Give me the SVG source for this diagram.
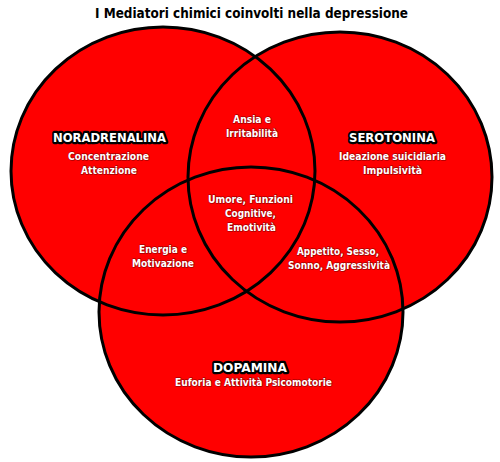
<svg xmlns="http://www.w3.org/2000/svg" width="500" height="462" viewBox="0 0 500 462">
<style>
.fill{fill:#ff0000;stroke:none}
.ring{fill:none;stroke:#000;stroke-width:3}
text{font-family:"DejaVu Sans","Liberation Sans",sans-serif;font-weight:bold;text-anchor:middle}
.title{font-size:14px;fill:#000}
.head{font-size:12.5px;fill:#fff;stroke:#000;stroke-width:4.5;stroke-linejoin:round;paint-order:stroke}
.sub{font-size:11px;fill:#fff;stroke:#5a0000;stroke-width:1.6;stroke-opacity:0.55;stroke-linejoin:round;paint-order:stroke}
</style>
<rect width="500" height="462" fill="#fff"/>
<text class="title" x="251.5" y="18" textLength="313" lengthAdjust="spacingAndGlyphs">I Mediatori chimici coinvolti nella depressione</text>
<g id="fills">
<ellipse class="fill" cx="163" cy="171" rx="152" ry="144"/>
<ellipse class="fill" cx="340" cy="177" rx="152" ry="145"/>
<ellipse class="fill" cx="251" cy="312" rx="152" ry="145"/>
</g>
<g id="noradrenalina">
<ellipse class="ring" cx="163" cy="171" rx="152" ry="144"/>
<text class="head" x="109.5" y="141.5" textLength="113" lengthAdjust="spacingAndGlyphs">NORADRENALINA</text>
<text class="sub" x="108.5" y="159.5" textLength="81" lengthAdjust="spacingAndGlyphs">Concentrazione</text>
<text class="sub" x="109" y="173.5" textLength="56" lengthAdjust="spacingAndGlyphs">Attenzione</text>
</g>
<g id="serotonina">
<ellipse class="ring" cx="340" cy="177" rx="152" ry="145"/>
<text class="head" x="392" y="141.5" textLength="86" lengthAdjust="spacingAndGlyphs">SEROTONINA</text>
<text class="sub" x="392.5" y="159.5" textLength="107" lengthAdjust="spacingAndGlyphs">Ideazione suicidiaria</text>
<text class="sub" x="392.5" y="173.5" textLength="59" lengthAdjust="spacingAndGlyphs">Impulsività</text>
</g>
<g id="dopamina">
<ellipse class="ring" cx="251" cy="312" rx="152" ry="145"/>
<text class="head" x="250" y="372" textLength="74" lengthAdjust="spacingAndGlyphs">DOPAMINA</text>
<text class="sub" x="253.5" y="385.5" textLength="157" lengthAdjust="spacingAndGlyphs">Euforia e Attività Psicomotorie</text>
</g>
<g id="ansia">
<text class="sub" x="252" y="123" textLength="38" lengthAdjust="spacingAndGlyphs">Ansia e</text>
<text class="sub" x="252" y="137" textLength="52" lengthAdjust="spacingAndGlyphs">Irritabilità</text>
</g>
<g id="umore">
<text class="sub" x="250.5" y="202.5" textLength="85" lengthAdjust="spacingAndGlyphs">Umore, Funzioni</text>
<text class="sub" x="250.5" y="216.5" textLength="51" lengthAdjust="spacingAndGlyphs">Cognitive,</text>
<text class="sub" x="251.5" y="230.5" textLength="49" lengthAdjust="spacingAndGlyphs">Emotività</text>
</g>
<g id="energia">
<text class="sub" x="163" y="253" textLength="48" lengthAdjust="spacingAndGlyphs">Energia e</text>
<text class="sub" x="163" y="267" textLength="62" lengthAdjust="spacingAndGlyphs">Motivazione</text>
</g>
<g id="appetito">
<text class="sub" x="338" y="255" textLength="82" lengthAdjust="spacingAndGlyphs">Appetito, Sesso,</text>
<text class="sub" x="339" y="269" textLength="102" lengthAdjust="spacingAndGlyphs">Sonno, Aggressività</text>
</g>
<g id="connectors"/>
</svg>
